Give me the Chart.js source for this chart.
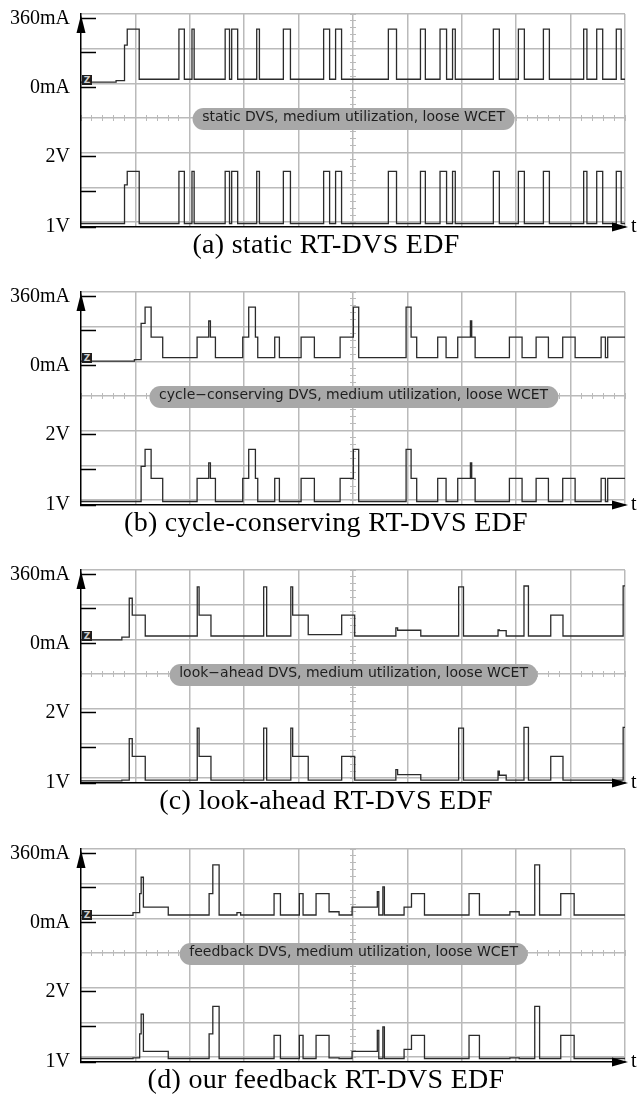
<!DOCTYPE html>
<html>
<head>
<meta charset="utf-8">
<title>RT-DVS EDF scope traces</title>
<script src="https://cdn.jsdelivr.net/npm/chart.js@4.4.1/dist/chart.umd.min.js"></script>
<style>
  body { margin: 0; background: #fff; }
  #page { position: relative; width: 641px; height: 1099px; overflow: hidden; background: #fff; }
  .panel { position: absolute; left: 0; width: 641px; height: 240px; }
  .panel canvas { position: absolute; left: 0; top: 0; }
  .tag {
    position: absolute; left: 353.6px; top: 119px; height: 22px; line-height: 22px;
    border-radius: 11px; background: #a8a8a8; color: #1e1e1e; padding: 0 10px;
    font: 14px "DejaVu Sans", sans-serif; white-space: nowrap; transform: translate(-50%, -50%);
  }
  .gnd {
    position: absolute; left: 82px; top: 75px; width: 10px; height: 10px; background: #1e1e1e;
    color: #cfcfcf; font: bold 9px "DejaVu Sans", sans-serif; line-height: 10px; text-align: center;
  }
  .t { position: absolute; left: 631px; top: 214px; font: 20px "Liberation Serif", serif; }
  .cap {
    position: absolute; left: 0; top: 228px; width: 652px; text-align: center;
    font: 28px "Liberation Serif", serif; letter-spacing: 0.3px; white-space: nowrap;
  }
</style>
</head>
<body>
<div id="page">
  <div class="panel" style="top:0px">
    <canvas id="scopeA" width="641" height="240"></canvas>
    <div class="gnd">Z</div>
    <div class="tag">static DVS, medium utilization, loose WCET</div>
    <div class="t">t</div>
    <div class="cap">(a) static RT-DVS EDF</div>
  </div>
  <div class="panel" style="top:278px">
    <canvas id="scopeB" width="641" height="240"></canvas>
    <div class="gnd">Z</div>
    <div class="tag">cycle−conserving DVS, medium utilization, loose WCET</div>
    <div class="t">t</div>
    <div class="cap">(b) cycle-conserving RT-DVS EDF</div>
  </div>
  <div class="panel" style="top:556px">
    <canvas id="scopeC" width="641" height="240"></canvas>
    <div class="gnd">Z</div>
    <div class="tag">look−ahead DVS, medium utilization, loose WCET</div>
    <div class="t">t</div>
    <div class="cap">(c) look-ahead RT-DVS EDF</div>
  </div>
  <div class="panel" style="top:835px">
    <canvas id="scopeD" width="641" height="240"></canvas>
    <div class="gnd">Z</div>
    <div class="tag">feedback DVS, medium utilization, loose WCET</div>
    <div class="t">t</div>
    <div class="cap">(d) our feedback RT-DVS EDF</div>
  </div>
</div>

<script>
// time is in scope divisions (10 across the screen); each entry starts a new level
// current in mA, voltage in V

// (a) static
var timeA = [0, 0.645, 0.80, 0.85, 1.07, 1.80, 1.90, 2.04, 2.08, 2.65, 2.73, 2.77, 2.88, 3.23, 3.28,
  3.72, 3.85, 4.46, 4.57, 4.68, 4.79, 5.65, 5.80, 6.24, 6.33, 6.60, 6.72, 6.83, 6.88, 7.58, 7.69,
  8.04, 8.15, 8.50, 8.61, 9.24, 9.30, 9.48, 9.59, 9.84, 9.93, 10];
var currA = [27, 35, 220, 303, 42, 303, 42, 303, 42, 303, 42, 303, 42, 303, 42,
  303, 42, 303, 42, 303, 42, 303, 42, 303, 42, 303, 42, 303, 42, 303, 42,
  303, 42, 303, 42, 303, 42, 303, 42, 303, 42, 42];
var voltA = [1.05, 1.05, 1.6, 1.79, 1.05, 1.79, 1.05, 1.79, 1.05, 1.79, 1.05, 1.79, 1.05, 1.79, 1.05,
  1.79, 1.05, 1.79, 1.05, 1.79, 1.05, 1.79, 1.05, 1.79, 1.05, 1.79, 1.05, 1.79, 1.05, 1.79, 1.05,
  1.79, 1.05, 1.79, 1.05, 1.79, 1.05, 1.79, 1.05, 1.79, 1.05, 1.05];

// (b) cycle-conserving
var timeB = [0, 0.982, 1.105, 1.178, 1.289, 1.502, 2.134, 2.348, 2.379, 2.471, 2.973, 3.083, 3.206,
  3.249, 3.561, 3.647, 4.046, 4.290, 4.763, 5.007, 5.105, 5.976, 6.068, 6.171, 6.557, 6.711, 6.925,
  7.158, 7.182, 7.245, 7.875, 8.108, 8.366, 8.592, 8.855, 9.083, 9.561, 9.640, 9.682, 10];
var currB = [22, 30, 219, 304, 147, 40, 147, 231, 147, 40, 147, 304, 147,
  40, 147, 40, 147, 40, 147, 304, 40, 304, 147, 40, 147, 40, 147,
  231, 147, 40, 147, 40, 147, 40, 147, 40, 147, 40, 147, 147];
var voltB = [1.05, 1.05, 1.55, 1.79, 1.38, 1.05, 1.38, 1.6, 1.38, 1.05, 1.38, 1.79, 1.38,
  1.05, 1.38, 1.05, 1.38, 1.05, 1.38, 1.79, 1.05, 1.79, 1.38, 1.05, 1.38, 1.05, 1.38,
  1.6, 1.38, 1.05, 1.38, 1.05, 1.38, 1.05, 1.38, 1.05, 1.38, 1.05, 1.38, 1.38];

// (c) look-ahead
var timeC = [0, 0.751, 0.887, 0.942, 1.181, 2.137, 2.171, 2.389, 3.358, 3.413, 3.857, 3.891, 4.177,
  4.792, 5.031, 5.788, 5.82, 6.246, 6.942, 7.031, 7.666, 7.69, 7.816, 8.143, 8.225, 8.635, 8.860,
  9.966, 10];
var currC = [18, 32, 235, 147, 38, 294, 147, 38, 294, 38, 294, 147, 45,
  147, 38, 80, 68, 38, 294, 38, 70, 66, 38, 299, 38, 147, 38,
  300, 300];
var voltC = [1.03, 1.04, 1.63, 1.38, 1.04, 1.78, 1.38, 1.04, 1.78, 1.04, 1.78, 1.38, 1.04,
  1.38, 1.04, 1.19, 1.12, 1.04, 1.78, 1.04, 1.17, 1.11, 1.04, 1.79, 1.04, 1.38, 1.04,
  1.79, 1.79];

// (d) feedback
var timeD = [0, 0.956, 1.078, 1.106, 1.147, 1.604, 2.355, 2.423, 2.539, 2.867, 2.935, 3.549, 3.666,
  4.014, 4.082, 4.321, 4.560, 4.744, 4.983, 5.447, 5.474, 5.549, 5.577, 5.939, 6.075, 6.314, 7.133,
  7.324, 7.884, 8.055, 8.341, 8.430, 8.819, 9.065, 10];
var currD = [36, 50, 150, 235, 79, 38, 150, 300, 38, 50, 38, 150, 38,
  150, 38, 150, 55, 38, 79, 160, 38, 185, 38, 79, 150, 38, 150,
  38, 55, 38, 300, 38, 150, 38, 38];
var voltD = [1.05, 1.06, 1.40, 1.68, 1.15, 1.05, 1.40, 1.79, 1.05, 1.05, 1.05, 1.38, 1.05,
  1.38, 1.05, 1.38, 1.06, 1.05, 1.15, 1.45, 1.05, 1.50, 1.05, 1.18, 1.38, 1.05, 1.38,
  1.05, 1.06, 1.05, 1.79, 1.05, 1.38, 1.05, 1.05];

var currTicks = [0, 180, 360];
var voltTicks = [1, 1.5, 2];

var gridGray = '#bababa';
var traceColor = '#2b2b2b';

function points(time, vals) {
  return time.map(function (t, k) {
    return { x: t, y: vals[k] };
  });
}

function steps(from, to, step) {
  var out = [];
  for (var v = from; v <= to + 1e-9; v += step) {
    out.push({ value: Math.round(v * 1000) / 1000 });
  }
  return out;
}

// the little arrow heads on the two axes
var arrowHeads = {
  id: 'arrowHeads',
  afterDraw: function (chart) {
    var a = chart.chartArea;
    var ctx = chart.ctx;
    ctx.save();
    ctx.fillStyle = '#000';
    ctx.beginPath();
    ctx.moveTo(a.left, a.top + 1);
    ctx.lineTo(a.left - 4.5, a.top + 19);
    ctx.lineTo(a.left + 4.5, a.top + 19);
    ctx.closePath();
    ctx.fill();
    ctx.beginPath();
    ctx.moveTo(a.right + 3, a.bottom);
    ctx.lineTo(a.right - 13, a.bottom - 4.5);
    ctx.lineTo(a.right - 13, a.bottom + 4.5);
    ctx.closePath();
    ctx.fill();
    ctx.restore();
  }
};

// the volt axis takes no room of its own, but its labels share the space left of the plot
var shareLabelRoom = {
  id: 'shareLabelRoom',
  afterLayout: function (chart) {
    var s = chart.scales.yV;
    s.left = 0;
    s.width = s.right;
  }
};

var labelFont = { family: 'Liberation Serif', size: 20 };

function minorAxis(axis, where, len) {
  var s = {
    axis: axis,
    position: where,
    ticks: { display: false },
    grid: { drawOnChartArea: false, drawTicks: true, tickLength: len, tickColor: gridGray, tickWidth: 1 },
    border: { display: false }
  };
  if (axis === 'x') {
    s.type = 'linear'; s.min = 0; s.max = 10;
    s.afterBuildTicks = function (sc) { sc.ticks = steps(0, 10, 0.2); };
    s.afterFit = function (sc) { sc.height = 0; };
  } else {
    s.min = -0.144; s.max = 6;
    s.afterBuildTicks = function (sc) { sc.ticks = steps(0, 6, 0.2); };
    s.afterFit = function (sc) { sc.width = 0; };
  }
  return s;
}

function makeScope(id, time, curr, volt) {
  var ctx = document.getElementById(id).getContext('2d');
  return new Chart(ctx, {
    type: 'line',
    data: {
      datasets: [{
        label: 'current',
        data: points(time, curr),
        xAxisID: 'x',
        yAxisID: 'yI',
        stepped: true,
        borderColor: traceColor,
        borderWidth: 1.3,
        pointRadius: 0,
        fill: false
      }, {
        label: 'voltage',
        data: points(time, volt),
        xAxisID: 'x',
        yAxisID: 'yV',
        stepped: true,
        borderColor: traceColor,
        borderWidth: 1.3,
        pointRadius: 0,
        fill: false
      }]
    },
    options: {
      responsive: false,
      animation: false,
      events: [],
      layout: { padding: { top: 14, bottom: 13, left: 0, right: 16 } },
      plugins: { legend: { display: false }, tooltip: { enabled: false } },
      scales: {
        x: {
          type: 'linear',
          position: 'bottom',
          min: 0,
          max: 10,
          afterBuildTicks: function (s) { s.ticks = steps(0, 10, 1); },
          ticks: { display: false },
          grid: {
            color: function (c) { return c.index === 0 ? 'rgba(0,0,0,0)' : gridGray; },
            lineWidth: 1.5,
            drawTicks: false
          },
          border: { display: true, color: '#000', width: 1.5, z: 1 },
          afterFit: function (s) { s.height = 0; }
        },
        yI: {
          position: 'left',
          weight: 1,
          min: -728.9,
          max: 382.4,
          afterBuildTicks: function (s) {
            s.ticks = currTicks.map(function (v) { return { value: v }; });
          },
          ticks: {
            padding: 26,
            color: '#000',
            font: labelFont,
            callback: function (v) { return v === 180 ? '' : v + 'mA'; }
          },
          grid: { drawOnChartArea: false, tickLength: -15, tickColor: '#000', tickWidth: 1.5 },
          border: { display: false },
          afterFit: function (s) { s.width = 81; s.paddingTop = 0; s.paddingBottom = 0; }
        },
        yV: {
          position: 'left',
          weight: 0,
          min: 1,
          max: 4.03,
          afterBuildTicks: function (s) {
            s.ticks = voltTicks.map(function (v) { return { value: v }; });
          },
          ticks: {
            padding: 26,
            color: '#000',
            font: labelFont,
            callback: function (v) { return v === 1.5 ? '' : v + 'V'; }
          },
          grid: { drawOnChartArea: false, tickLength: -15, tickColor: '#000', tickWidth: 1.5 },
          border: { display: true, color: '#000', width: 1.5, z: 1 },
          afterFit: function (s) { s.width = 0; s.paddingTop = 0; s.paddingBottom = 0; }
        },
        yG: {
          position: 'right',
          min: -0.144,
          max: 6,
          afterBuildTicks: function (s) { s.ticks = steps(0, 6, 1); },
          ticks: { display: false },
          grid: { color: gridGray, lineWidth: 1.5, drawTicks: false },
          border: { display: false },
          afterFit: function (s) { s.width = 0; }
        },
        xm1: minorAxis('x', { yG: 3 }, 3),
        xm2: minorAxis('x', { yG: 3 }, -3),
        ym1: minorAxis('y', { x: 5 }, 3),
        ym2: minorAxis('y', { x: 5 }, -3)
      }
    },
    plugins: [shareLabelRoom, arrowHeads]
  });
}

makeScope('scopeA', timeA, currA, voltA);
makeScope('scopeB', timeB, currB, voltB);
makeScope('scopeC', timeC, currC, voltC);
makeScope('scopeD', timeD, currD, voltD);
</script>
</body>
</html>
